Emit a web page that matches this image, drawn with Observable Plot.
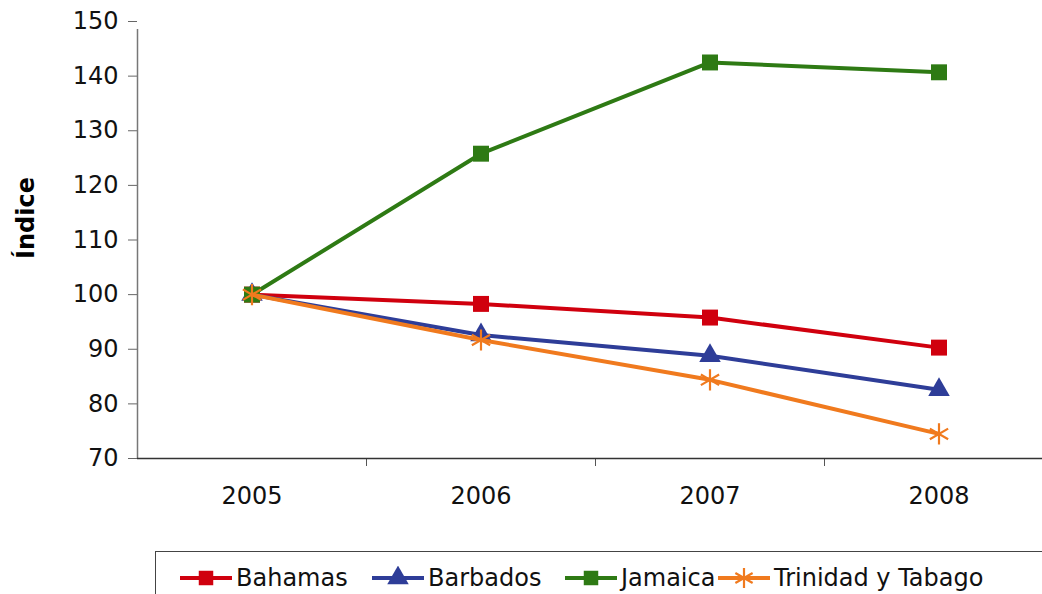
<!DOCTYPE html>
<html>
<head>
<meta charset="utf-8">
<script src="https://cdn.jsdelivr.net/npm/d3@7"></script>
<script src="https://cdn.jsdelivr.net/npm/@observablehq/plot@0.6"></script>
<style>
  html, body { margin: 0; padding: 0; background: #fff; }
  body { width: 1042px; height: 594px; overflow: hidden; position: relative; font-family: "DejaVu Sans", Verdana, sans-serif; }
  #chart { position: absolute; left: 0; top: 0; }
  #ytitle { position: absolute; left: 26px; top: 218px; transform: translate(-50%, -50%) rotate(-90deg); font-weight: bold; font-size: 24px; color: #000; white-space: nowrap; }
  #legend { position: absolute; left: 155px; top: 551px; width: 1000px; height: 70px; border: 1.5px solid #444; box-sizing: border-box; }
  .item { position: absolute; top: 12px; display: flex; align-items: center; font-size: 24px; color: #111; white-space: nowrap; }
  .item svg { display: block; margin-right: 4px; }
</style>
</head>
<body>
<div id="chart"></div>
<div id="ytitle">Índice</div>
<div id="legend"></div>
<script>
const years = [2005, 2006, 2007, 2008];
const seriesNames = ["Bahamas", "Barbados", "Jamaica", "Trinidad y Tabago"];
const bahamas = [100, 98.3, 95.8, 90.3];
const barbados = [100, 92.6, 88.8, 82.6];
const jamaica = [100, 125.8, 142.5, 140.7];
const trinidad = [100, 91.7, 84.4, 74.5];
const yTicks = [70, 80, 90, 100, 110, 120, 130, 140, 150];
const colors = ["#D0000E", "#2E3D98", "#2E7A14", "#F07A1E"];
const symbols = ["square", "triangle", "square", "asterisk"];
const legendLeft = [24, 216, 409, 562];

const valuesBySeries = [bahamas, barbados, jamaica, trinidad];
const data = seriesNames.map((name, i) => years.map((year, j) => ({series: name, year, value: valuesBySeries[i][j]})));

const seriesMarks = data.flatMap((rows, i) => [
  Plot.line(rows, {x: "year", y: "value", stroke: colors[i], strokeWidth: 4}),
  symbols[i] === "asterisk"
    ? Plot.dot(rows, {x: "year", y: "value", symbol: "asterisk", stroke: colors[i], strokeWidth: 2.2, r: 10})
    : Plot.dot(rows, {x: "year", y: "value", symbol: symbols[i], fill: colors[i], stroke: "none", r: symbols[i] === "triangle" ? 8 : 9})
]);

const boundaries = years.slice(0, -1).map(y => y + 0.5);

const plot = Plot.plot({
  width: 1042,
  height: 545,
  marginLeft: 137,
  marginTop: 21,
  marginBottom: 87,
  marginRight: 0,
  style: {fontFamily: "'DejaVu Sans', Verdana, sans-serif", background: "#fff", overflow: "visible"},
  x: {type: "linear", domain: [years[0] - 0.5, years[years.length - 1] + 0.5], range: [137, 1053], label: null},
  y: {domain: [70, 150], range: [458, 21], label: null},
  marks: [
    Plot.axisY({ticks: yTicks, tickSize: 9, tickPadding: 10, fontSize: 24, stroke: "#666", fill: "#111", label: null}),
    Plot.axisX({ticks: years, tickSize: 0, tickPadding: 28, fontSize: 24, fill: "#111", tickFormat: d => String(d), label: null}),
    Plot.axisX({ticks: boundaries, tickSize: 8, tickFormat: () => "", stroke: "#555", label: null}),
    Plot.ruleX([years[0] - 0.5], {y1: 70, y2: 150, stroke: "#777", strokeWidth: 1.5, insetBottom: -8}),
    Plot.ruleY([70], {stroke: "#333", strokeWidth: 1.5}),
    ...seriesMarks
  ]
});
document.getElementById("chart").appendChild(plot);

// legend
const legend = document.getElementById("legend");
seriesNames.forEach((name, i) => {
  const item = document.createElement("div");
  item.className = "item";
  item.style.left = legendLeft[i] + "px";
  const svg = d3.create("svg").attr("width", 52).attr("height", 24);
  svg.append("line").attr("x1", 0).attr("x2", 52).attr("y1", 12).attr("y2", 12).attr("stroke", colors[i]).attr("stroke-width", 4);
  const sym = symbols[i] === "square" ? d3.symbolSquare : symbols[i] === "triangle" ? d3.symbolTriangle : d3.symbolAsterisk;
  const size = symbols[i] === "triangle" ? 200 : symbols[i] === "asterisk" ? 280 : 210;
  const p = svg.append("path").attr("transform", "translate(26,12)").attr("d", d3.symbol(sym, size)());
  if (symbols[i] === "asterisk") p.attr("fill", "none").attr("stroke", colors[i]).attr("stroke-width", 2.2);
  else p.attr("fill", colors[i]);
  item.appendChild(svg.node());
  const t = document.createElement("span");
  t.textContent = name;
  item.appendChild(t);
  legend.appendChild(item);
});
</script>
</body>
</html>
